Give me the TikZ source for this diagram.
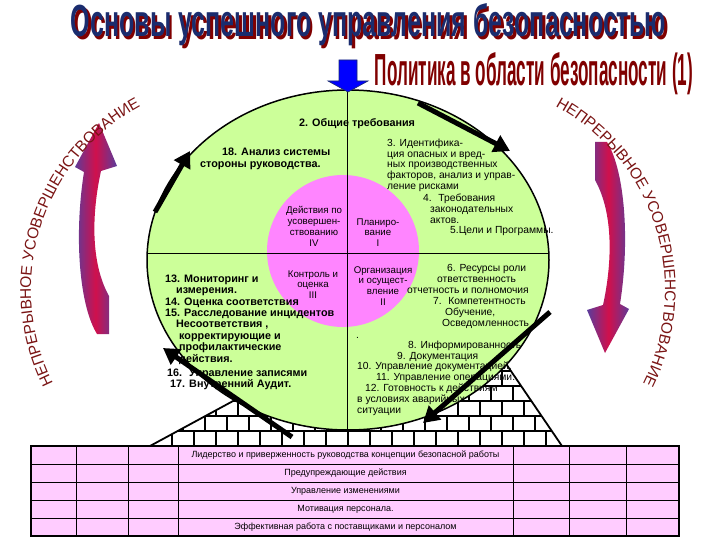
\documentclass[tikz,border=0pt]{standalone}
\usepackage{fontspec}
\setmainfont{Liberation Sans}
\usetikzlibrary{arrows.meta,decorations.text}
\definecolor{leafgreen}{HTML}{CCFF99}
\definecolor{rosepink}{HTML}{FF85FF}
\definecolor{tablepink}{HTML}{FFCCFF}
\definecolor{navytitle}{HTML}{1A2C6E}
\definecolor{maroontitle}{HTML}{800000}
\definecolor{arcred}{HTML}{7A1414}
\definecolor{arrpurple}{HTML}{5A3C9C}
\definecolor{arrred}{HTML}{D0104C}
\newcommand\arcfont{\fontsize{15.5}{16}\selectfont}

\begin{document}
\begin{tikzpicture}[
    x=1pt, y=-1pt,
    boldtxt/.style={font=\fontsize{10.8}{11.4}\selectfont\bfseries,
        align=left, inner sep=0pt, anchor=north west},
    plaintxt/.style={font=\fontsize{10.3}{10.9}\selectfont,
        align=left, inner sep=0pt, anchor=north west},
    phase/.style={font=\fontsize{9.7}{10.8}\selectfont,
        align=center, inner sep=0pt},
    cyclearrow/.style={line width=5pt, -{Triangle[length=16pt,width=18pt]}},
    brick/.style={line width=1.6pt},
    rowtext/.style={font=\fontsize{9}{9}\selectfont, inner sep=0pt},
    arctext/.style={decorate, decoration={text along path, text align=center,
        text color=arcred, text={|\arcfont|НЕПРЕРЫВНОЕ УСОВЕРШЕНСТВОВАНИЕ}}}
]
\useasboundingbox (0,0) rectangle (720,540);

% brick foundation
\begin{scope}
\clip (150,446) -- (451,283) -- (562,446) -- cycle;
\foreach \r in {0,...,12} {
    \draw[brick] (140,446-15*\r) -- (570,446-15*\r);
    \pgfmathsetmacro{\brickoff}{mod(\r,2)*11}
    \foreach \c in {0,...,19}
        \draw[brick] (150+\brickoff+22*\c,446-15*\r) -- ++(0,-15);
}
\end{scope}
\draw[line width=1.8pt] (150,446) -- (451,283) -- (562,446);

% cycle circle
\draw[fill=leafgreen, line width=1.5pt] (348,260) ellipse [x radius=201, y radius=170];
\fill[rosepink] (343,251) circle [radius=76];
\draw[line width=0.8pt] (347,90) -- (347,430);
\draw[line width=0.8pt] (147,253) -- (549,253);

\node[phase] (improve) at (314,226.5) {Действия по\\усовершен-\\ствованию\\IV};
\node[phase] (plan) at (378,232.5) {Планиро-\\вание\\I};
\node[phase] (check) at (313,284.5) {Контроль и\\оценка\\III};
\node[phase] (act) at (383,286) {Организация\\и осущест-\\вление\\II};

\node[boldtxt] (general) at (299,118) {2. Общие требования};
\node[boldtxt] (review) at (200,148) {\hspace*{22pt}18. Анализ системы\\стороны руководства.};
\node[plaintxt] (hazards) at (387,138.5) {3. Идентифика-\\ция опасных и вред-\\ных производственных\\факторов, анализ и управ-\\ление рисками};
\node[plaintxt] (legal) at (423,193.5) {4.~ Требования\\\hspace*{7pt}законодательных\\\hspace*{7pt}актов.\\\hspace*{27pt}5.Цели и Программы.};
\node[boldtxt] (monitor) at (165,274.5) {13. Мониторинг и\\\hspace*{11pt}измерения.\\14. Оценка соответствия\\15. Расследование инцидентов\\\hspace*{11pt}Несоответствия ,\\\hspace*{14pt}корректирующие и\\\hspace*{14pt}профилактические\\\hspace*{14pt}действия.\\[3pt]\hspace*{2pt}16.~ Управление записями\\\hspace*{5pt}17. Внутренний Аудит.};
\node[plaintxt] (resources) at (407,264.5) {\hspace*{40pt}6. Ресурсы роли\\\hspace*{30pt}ответственность\\отчетность и полномочия\\\hspace*{26pt}7.~ Компетентность\\\hspace*{38pt}Обучение,\\\hspace*{35pt}Осведомленность};
\node[plaintxt, anchor=base west] (dot) at (356,338) {.};
\node[plaintxt] (docs) at (357,340.5) {\hspace*{51pt}8. Информированность\\\hspace*{40pt}9. Документация\\10. Управление документацией.\\\hspace*{19pt}11. Управление операциями.\\\hspace*{8pt}12. Готовность к действиям\\в условиях аварийных\\ситуации};

% PDCA arrows
\coordinate (tl0) at (155,212); \coordinate (tl1) at (190,151);
\coordinate (tr0) at (418,103); \coordinate (tr1) at (510,151);
\coordinate (br0) at (550,312); \coordinate (br1) at (423,423);
\coordinate (bl0) at (292,437); \coordinate (bl1) at (163,348);
\draw[cyclearrow] (tl0) -- (tl1);
\draw[cyclearrow] (tr0) -- (tr1);
\draw[cyclearrow] (br0) -- (br1);
\draw[cyclearrow] (bl0) -- (bl1);

% continuous improvement
\foreach \ang in {0,180} {
\begin{scope}[rotate around={\ang:(352,238)}]
\shade[left color=arrpurple, right color=arrpurple, middle color=arrred]
    (99,123) -- (117,166) -- (101,171)
    .. controls (92,212) and (90,262) .. (109,296) -- (109,334) -- (97,334)
    .. controls (79,305) and (74,235) .. (84,172) -- (75,167) -- cycle;
\end{scope}
}
\path[arctext] (240,290) ++(127.5:209) arc[start angle=127.5, end angle=267.5, radius=209];
\path[arctext] (456,290) ++(-87.5:209) arc[start angle=-87.5, end angle=52.5, radius=209];

% headings
\node[font=\bfseries, text=maroontitle, anchor=base] (titleshadow) at (371,39.5)
    {\resizebox{595pt}{33pt}{Основы успешного управления безопасностью}};
\node[font=\bfseries, text=navytitle, anchor=base] (title) at (368.5,37)
    {\resizebox{595pt}{33pt}{Основы успешного управления безопасностью}};
\node[font=\bfseries, text=maroontitle, anchor=base] (policy) at (534,86)
    {\resizebox{318pt}{33pt}{Политика в области безопасности (1)}};
\draw[fill=blue, draw=navytitle, line width=0.6pt] (339,60) -- (357,60) -- (357,81)
    -- (368,81) -- (348,92) -- (328,81) -- (339,81) -- cycle;

% foundation table
\fill[tablepink] (31,446) rectangle (679,536);
\foreach \y in {464,482,500,518}
    \draw[line width=0.8pt] (31,\y) -- (679,\y);
\foreach \x in {76,128,178,513,569,626}
    \draw[line width=0.8pt] (\x,446) -- (\x,536);
\draw[line width=1.8pt] (31,446) rectangle (679,536);
\foreach \t [count=\i] in {Лидерство и приверженность руководства концепции безопасной работы,
    Предупреждающие действия, Управление изменениями, Мотивация персонала.,
    Эффективная работа с поставщиками и персоналом}
    \node[rowtext] (row\i) at (345.5,437+18*\i) {\t};
\end{tikzpicture}
\end{document}
